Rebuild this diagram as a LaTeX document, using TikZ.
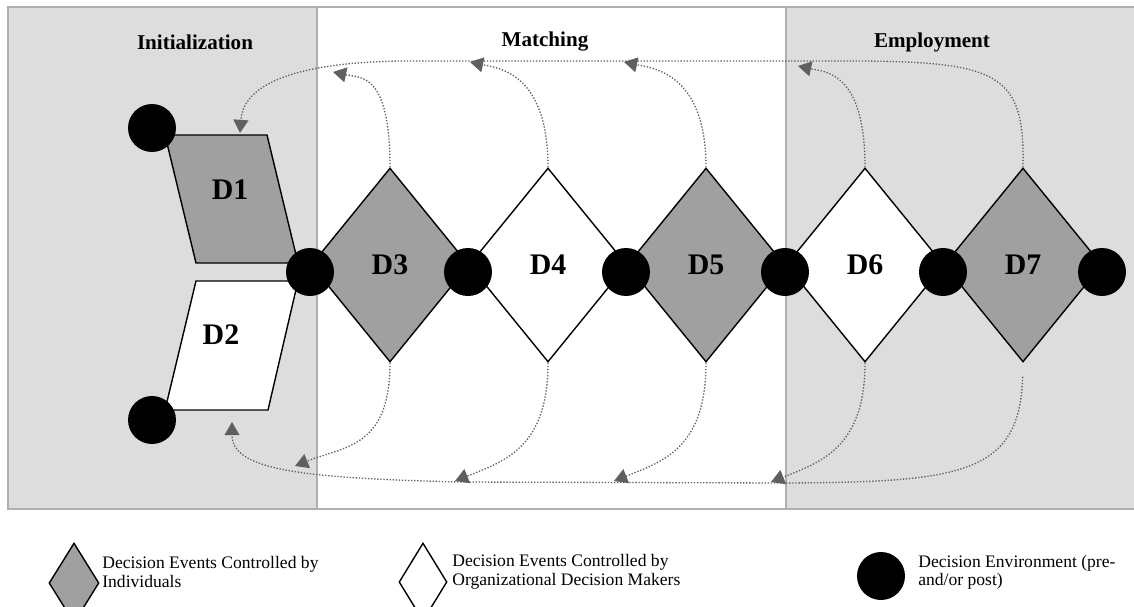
\documentclass[tikz,border=0pt]{standalone}
\usepackage{fontspec}
\setmainfont{Liberation Serif}
\usetikzlibrary{shapes.geometric,arrows.meta}
\definecolor{panelgrey}{RGB}{221,221,221}
\definecolor{framegrey}{RGB}{175,175,175}
\definecolor{eventgrey}{RGB}{160,160,160}
\definecolor{flowgrey}{RGB}{95,95,95}
\tikzset{
  panel/.style={fill=panelgrey,draw=framegrey,line width=0.8pt},
  event/.style={diamond,draw,line width=0.8pt,inner sep=0pt,
    minimum width=3.16cm,minimum height=3.88cm,
    font=\fontsize{17}{17}\selectfont\bfseries},
  indiv/.style={event,fill=eventgrey},
  orga/.style={event,fill=white},
  env/.style={circle,fill=black,inner sep=0pt,minimum size=0.96cm},
  dlabel/.style={font=\fontsize{17}{17}\selectfont\bfseries,inner sep=0pt},
  phase/.style={font=\fontsize{12}{12}\selectfont\bfseries},
  flow/.style={flowgrey,line width=0.75pt,densely dotted,
    -{Triangle[length=7.5pt,width=8.5pt]}},
  legtext/.style={anchor=west,align=left,inner sep=0pt,
    font=\fontsize{10}{10.5}\selectfont}
}

\begin{document}
\begin{tikzpicture}[x=0.02cm,y=-0.02cm]
\clip (0,0) rectangle (1134,606);
\fill[white] (0,0) rectangle (1134,606);

% phases
\draw[framegrey,line width=0.8pt,fill=white] (317,7) rectangle (786,509);
\draw[panel] (8,7) rectangle (317,509);
\draw[panel] (786,7) rectangle (1140,509);
\node[phase] (init) at (195,42) {Initialization};
\node[phase] (match) at (545,42) {Matching};
\node[phase] (employ) at (932,42) {Employment};

% D1 and D2
\draw[fill=eventgrey,line width=0.8pt] (165,135) -- (267,135) -- (298,263) -- (196,263) -- cycle;
\draw[fill=white,line width=0.8pt] (196,281) -- (298,281) -- (268,410) -- (165,410) -- cycle;
\node[dlabel] (d1) at (230,190) {D1};
\node[dlabel] (d2) at (221,335) {D2};

% decision events
\node[indiv] (d3) at (390,265) {D3};
\node[orga]  (d4) at (548,265) {D4};
\node[indiv] (d5) at (706,265) {D5};
\node[orga]  (d6) at (865,265) {D6};
\node[indiv] (d7) at (1023,265) {D7};

% environments
\node[env] (c1) at (152,128) {};
\node[env] (c2) at (152,420) {};
\foreach \i/\x in {3/310,4/468,5/626,6/785,7/943,8/1102}
  \node[env] (c\i) at (\x,272) {};

% arrow ends
\coordinate (t1) at (240,133);
\coordinate (t3) at (333,72);
\coordinate (t4) at (470,62);
\coordinate (t5) at (624,62);
\coordinate (t6) at (798,66);
\coordinate (b1) at (232,422);
\coordinate (b3) at (295,466);
\coordinate (b4) at (455,481);
\coordinate (b5) at (614,481);
\coordinate (b6) at (771,482);

% feedback above
\draw[flow] (d7.north) .. controls (1025,75) and (1000,62) .. (860,61)
  -- (400,61) .. controls (280,63) and (243,90) .. (t1);
\foreach \n in {3,4,5,6}
  \draw[flow] (d\n.north) .. controls +(0,-95) and +(28,6) .. (t\n);

% feedback below
\draw[flow,shorten <=8pt] (d7.south) .. controls (1020,475) and (960,482) .. (785,483)
  -- (460,482) .. controls (300,478) and (232,470) .. (b1);
\foreach \n in {3,4,5,6}
  \draw[flow] (d\n.south) .. controls +(0,85) and +(50,-20) .. (b\n);

% legend
\node[diamond,draw,fill=eventgrey,line width=0.8pt,inner sep=0pt,
  minimum width=1cm,minimum height=1.6cm] (lgind) at (74,583) {};
\node[legtext] (lgindtxt) at (102,572) {Decision Events Controlled by\\Individuals};
\node[diamond,draw,fill=white,line width=0.8pt,inner sep=0pt,
  minimum width=0.96cm,minimum height=1.56cm] (lgorg) at (423,582) {};
\node[legtext] (lgorgtxt) at (452,572) {Decision Events Controlled by\\Organizational Decision Makers};
\node[env] (lgenv) at (881,576) {};
\node[legtext] (lgenvtxt) at (918,572) {Decision Environment (pre-\\and/or post)};
\end{tikzpicture}
\end{document}
